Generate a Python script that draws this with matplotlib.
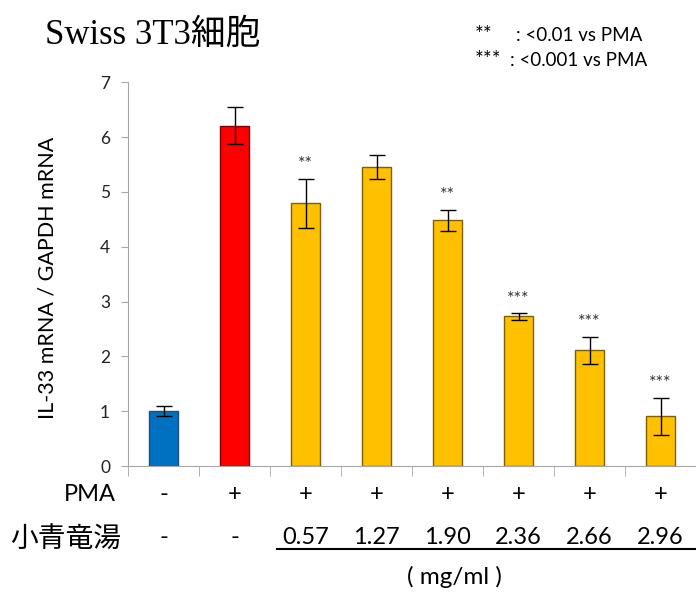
import numpy as np
import matplotlib
matplotlib.use("Agg")
import matplotlib.pyplot as plt

# data
pma = ["-", "+", "+", "+", "+", "+", "+", "+"]
doses = ["-", "-", "0.57", "1.27", "1.90", "2.36", "2.66", "2.96"]
values = [1.01, 6.21, 4.79, 5.45, 4.48, 2.73, 2.11, 0.91]
errors = [0.09, 0.33, 0.45, 0.22, 0.19, 0.06, 0.25, 0.34]
stars = ["", "", "**", "", "**", "***", "***", "***"]
colors = ["#0070C0", "#FF0000", "#FFC000", "#FFC000", "#FFC000", "#FFC000", "#FFC000", "#FFC000"]
edges = ["#1F4E79", "#7F0000", "#7F6000", "#7F6000", "#7F6000", "#7F6000", "#7F6000", "#7F6000"]

plt.rcParams["font.family"] = ["Lato", "Noto Sans CJK JP", "DejaVu Sans"]

fig = plt.figure(figsize=(6.96, 5.96), dpi=100)
ax = fig.add_axes([0.184, 0.218, 0.816, 0.644])

x = np.arange(len(values))
ax.bar(x, values, width=0.4, color=colors, edgecolor=edges, linewidth=1)
ax.errorbar(x, values, yerr=errors, fmt="none", ecolor="black", elinewidth=1,
            capsize=5.5, capthick=1)
for xi, v, e, s in zip(x, values, errors, stars):
    if s:
        ax.text(xi, v + e + 0.12, s, ha="center", va="bottom", fontsize=13, color="#333333")

ax.set_xlim(-0.5, len(values) - 0.5)
ax.set_ylim(0, 7)
ax.set_yticks(range(0, 8))
ax.tick_params(axis="y", labelsize=12.5, length=5, color="#a6a6a6", pad=8, labelcolor="#222222")
ax.set_xticks([])
ax.set_xticks(np.arange(-0.5, len(values)), minor=True)
ax.tick_params(axis="x", which="minor", length=7, color="#a6a6a6")
for side in ["top", "right"]:
    ax.spines[side].set_visible(False)
for side in ["left", "bottom"]:
    ax.spines[side].set_color("#a6a6a6")
ax.set_ylabel("IL-33 mRNA / GAPDH mRNA", fontsize=15.5)
ax.yaxis.set_label_coords(-0.125, 0.49)

trans = ax.get_xaxis_transform()
ax.text(-0.67, -0.075, "PMA", transform=trans, ha="right", va="center", fontsize=17)
ax.text(-0.6, -0.19, "小青竜湯", transform=trans, ha="right", va="center", fontsize=20,
        family=["Noto Sans CJK JP"])
for xi, p, d in zip(x, pma, doses):
    ax.text(xi, -0.075, p, transform=trans, ha="center", va="center", fontsize=17)
    ax.text(xi, -0.185, d, transform=trans, ha="center", va="center", fontsize=17)
ax.plot([1.6, 7.5], [-0.217, -0.217], transform=trans, color="black", lw=1.5, clip_on=False)
ax.text(4.1, -0.29, "( mg/ml )", transform=trans, ha="center", va="center", fontsize=17.5)

fig.text(0.065, 0.94, "Swiss 3T3細胞", fontsize=25, ha="left", va="center",
         family=["Liberation Serif", "Noto Sans CJK JP"])
fig.text(0.682, 0.941, "**", fontsize=15, ha="left", va="center")
fig.text(0.741, 0.941, ": <0.01 vs PMA", fontsize=13.5, ha="left", va="center")
fig.text(0.682, 0.899, "***", fontsize=15, ha="left", va="center")
fig.text(0.733, 0.899, ": <0.001 vs PMA", fontsize=13.5, ha="left", va="center")

fig.savefig("out.png", dpi=100)
